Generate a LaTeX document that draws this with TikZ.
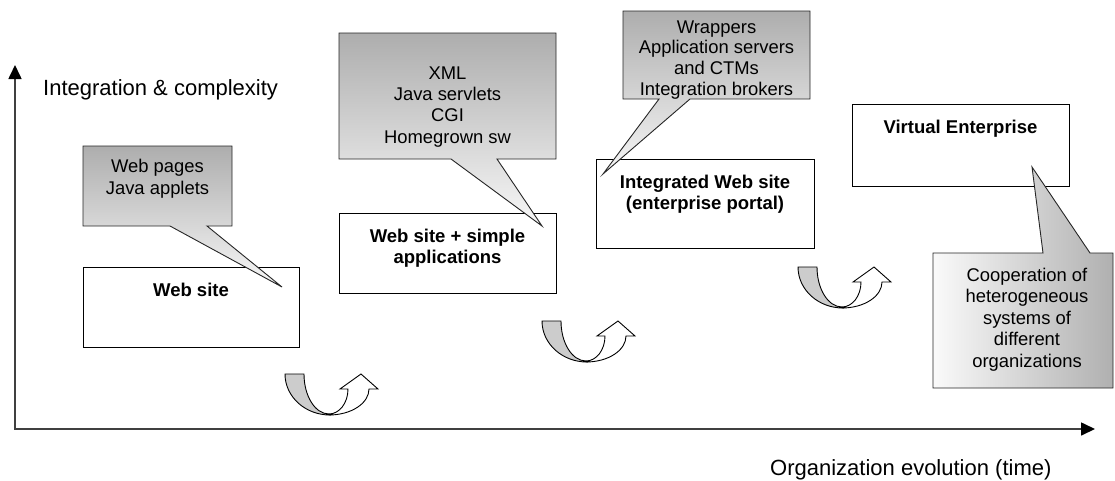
\documentclass[tikz,border=0pt]{standalone}
\usepackage{fontspec}
\setmainfont{Liberation Sans}
\usetikzlibrary{arrows.meta}
\begin{document}
\begin{tikzpicture}[x=1pt,y=-1pt,
  stage/.style={draw=black, line width=1.1pt, fill=white, inner sep=0pt, anchor=north west},
  % multi-line texts are placed by the baseline of their last line
  stagetext/.style={font=\fontsize{18.5}{21}\selectfont\bfseries, align=center, anchor=base, inner sep=0pt},
  note/.style={draw=black!85, line width=0.9pt},
  darktop/.style={top color=gray!64, bottom color=gray!6},
  darkright/.style={left color=gray!4, right color=gray!62},
  notetext/.style={font=\fontsize{18.4}{21.3}\selectfont, align=center, anchor=base, inner sep=0pt},
  axis/.style={draw=black!75, line width=1.6pt},
  axislabel/.style={font=\fontsize{22}{26}\selectfont, anchor=base west, inner sep=0pt},
  turnback/.style={draw=black, line width=0.9pt, fill=gray!40},
  turnfwd/.style={draw=black, line width=0.9pt, fill=white},
  pics/uturn/.style={code={
    % shaded back of the band, narrowing towards the bottom
    \draw[turnback] (0,0) arc[start angle=180, end angle=90, x radius=45, y radius=41]
      -- (44,40) arc[start angle=90, end angle=180, x radius=25, y radius=40] -- cycle;
    % white front of the band, ending in the upward arrow head
    \draw[turnfwd] (44,41) arc[start angle=90, end angle=0, x radius=40, y radius=26]
      -- (93,15) -- (76,0) -- (55,15) -- (63,15)
      arc[start angle=0, end angle=90, x radius=19, y radius=25] -- cycle;
  }},
]
\useasboundingbox (0,0) rectangle (1115,480);

% axes
\coordinate (origin) at (15,429);
\coordinate (ytip) at (15,65);
\coordinate (xtip) at (1095,429);
\draw[axis, {Triangle[length=14pt,width=13pt,color=black]}-{Triangle[length=14pt,width=13pt,color=black]}]
  (ytip) -- (origin) -- (xtip);
\node[axislabel] (ylabel) at (43,95) {Integration \& complexity};
\node[axislabel] (xlabel) at (770,475) {Organization evolution (time)};

% stages
\node[stage, minimum width=216pt, minimum height=80pt] (s1) at (83,267) {};
\node[stagetext] (s1t) at (191,296) {Web site};
\node[stage, minimum width=217pt, minimum height=80pt] (s2) at (339,213) {};
\node[stagetext] (s2t) at (447.5,263) {Web site + simple\\applications};
\node[stage, minimum width=218pt, minimum height=89pt] (s3) at (596,159) {};
\node[stagetext] (s3t) at (705,209) {Integrated Web site\\(enterprise portal)};
\node[stage, minimum width=217pt, minimum height=82pt] (s4) at (852,104) {};
\node[stagetext] (s4t) at (960.5,133) {Virtual Enterprise};

% callouts
\path[note, darktop] (83,146) -- (232,146) -- (232,226) -- (207,226) -- (282,287)
  -- (170,226) -- (83,226) -- cycle;
\node[notetext] (c1t) at (157.5,194) {Web pages\\Java applets};

\path[note, darktop] (339,33) -- (556,33) -- (556,159) -- (497,159) -- (542,226)
  -- (451,159) -- (339,159) -- cycle;
\node[notetext] (c2t) at (447.5,143) {XML\\Java servlets\\CGI\\Homegrown sw};

\path[note, darktop] (623,11) -- (810,11) -- (810,99) -- (690,99) -- (603,174)
  -- (659,99) -- (623,99) -- cycle;
\node[notetext, font=\fontsize{18.4}{20.6}\selectfont] (c3t) at (716.5,95) {Wrappers\\Application servers\\and CTMs\\Integration brokers};

\path[note, darkright] (933,253) -- (1043,253) -- (1032,167) -- (1090,253)
  -- (1113,253) -- (1113,388) -- (933,388) -- cycle;
\node[notetext, font=\fontsize{18.4}{21.5}\selectfont] (c4t) at (1027,367) {Cooperation of\\heterogeneous\\systems of\\different\\organizations};

% transitions between stages
\pic at (285,374) {uturn};
\pic at (542,321) {uturn};
\pic at (798,267) {uturn};
\end{tikzpicture}
\end{document}
